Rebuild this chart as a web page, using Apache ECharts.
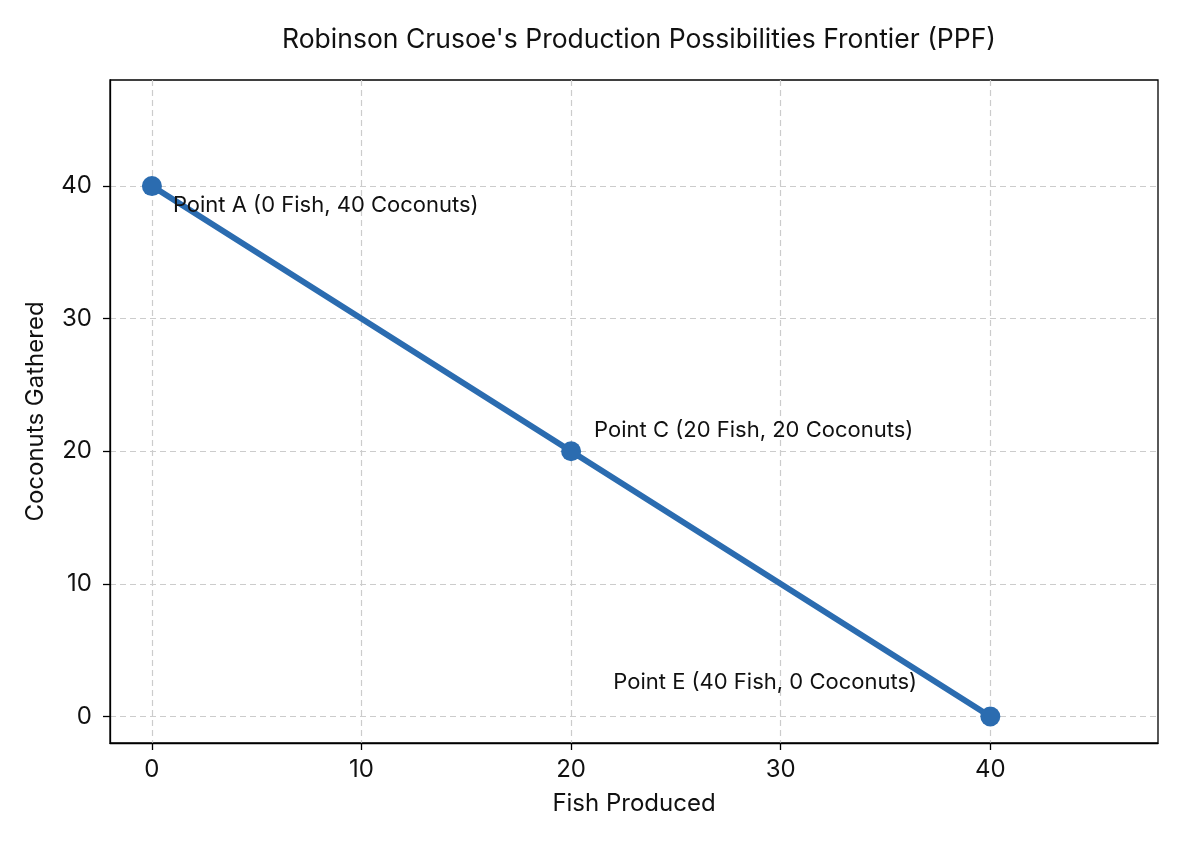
<!DOCTYPE html>
<html>
<head>
<meta charset="utf-8">
<title>PPF</title>
<script src="https://cdn.jsdelivr.net/npm/echarts@6/dist/echarts.min.js"></script>
<style>
  html, body { margin: 0; padding: 0; background: #fff; }
  #main { width: 1183px; height: 845px; }
</style>
</head>
<body>
<div id="main"></div>
<script>
// 数据
var fish = [0, 20, 40];
var coconuts = [40, 20, 0];
var pointNames = ['Point A', 'Point C', 'Point E'];
var tickValues = [0, 10, 20, 30, 40];
// 注释文字相对点的偏移
var labelOffsets = [[21, 19], [23, -21], [-377, -34]];

(function() {
    var myChart = echarts.init(document.getElementById("main"));
    var font = "Inter, 'Noto Sans', sans-serif";

    var data = fish.map(function(f, i) {
        return {
            value: [f, coconuts[i]],
            label: {
                show: true,
                position: 'inside',
                align: 'left',
                verticalAlign: 'middle',
                offset: labelOffsets[i],
                formatter: pointNames[i] + ' (' + f + ' Fish, ' + coconuts[i] + ' Coconuts)',
                color: '#111',
                fontSize: 22,
                fontFamily: font
            }
        };
    });

    var axisCommon = {
        type: 'value',
        min: -2,
        max: 48,
        nameLocation: 'middle',
        nameTextStyle: { color: '#111', fontSize: 24, fontFamily: font },
        axisLine: { show: true, onZero: false, lineStyle: { color: '#000', width: 1.3 } },
        axisTick: { show: true, inside: false, length: 7, customValues: tickValues,
            lineStyle: { color: '#000', width: 1.3 } },
        splitLine: { show: true, lineStyle: { color: '#cccccc', type: [6, 4], width: 1.2 } }
    };

    var option = {
        animation: false,
        backgroundColor: '#fff',
        title: {
            text: "Robinson Crusoe's Production Possibilities Frontier (PPF)",
            left: 634,
            top: 22,
            textAlign: 'center',
            textStyle: { color: '#111', fontSize: 26.5, fontWeight: 'normal', fontFamily: font }
        },
        grid: {
            left: 110,
            right: 25,
            top: 80,
            bottom: 102,
            show: true,
            borderColor: '#000',
            borderWidth: 1.3,
            containLabel: false
        },
        xAxis: Object.assign({}, axisCommon, {
            name: 'Fish Produced',
            nameGap: 49,
            axisLabel: { customValues: tickValues, color: '#111', fontSize: 24, fontFamily: font, margin: 15 }
        }),
        yAxis: Object.assign({}, axisCommon, {
            name: 'Coconuts Gathered',
            nameGap: 62,
            axisLabel: { customValues: tickValues, color: '#111', fontSize: 24, fontFamily: font, margin: 18 }
        }),
        series: [{
            type: 'line',
            data: data,
            symbol: 'circle',
            symbolSize: 20,
            lineStyle: { color: '#2b6cb0', width: 6 },
            itemStyle: { color: '#2b6cb0' }
        }]
    };
    myChart.setOption(option);
})();
</script>
</body>
</html>
